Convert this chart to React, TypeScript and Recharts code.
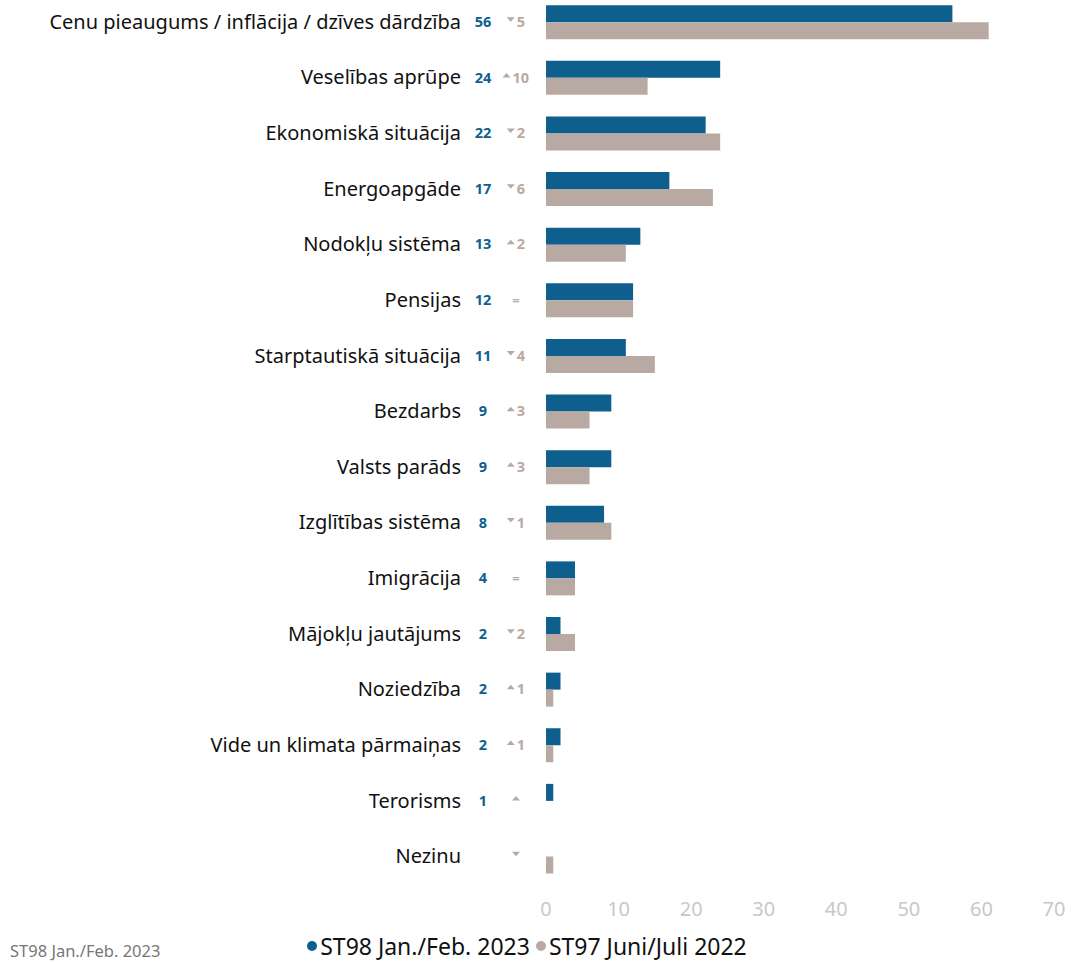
import { BarChart, Bar, XAxis, YAxis, Legend } from "recharts";

const categories = [
  "Cenu pieaugums / inflācija / dzīves dārdzība",
  "Veselības aprūpe",
  "Ekonomiskā situācija",
  "Energoapgāde",
  "Nodokļu sistēma",
  "Pensijas",
  "Starptautiskā situācija",
  "Bezdarbs",
  "Valsts parāds",
  "Izglītības sistēma",
  "Imigrācija",
  "Mājokļu jautājums",
  "Noziedzība",
  "Vide un klimata pārmaiņas",
  "Terorisms",
  "Nezinu",
];
const current = [56, 24, 22, 17, 13, 12, 11, 9, 9, 8, 4, 2, 2, 2, 1, 0];
const previous = [61, 14, 24, 23, 11, 12, 15, 6, 6, 9, 4, 4, 1, 1, 0, 1];
const currentLabels = ["56", "24", "22", "17", "13", "12", "11", "9", "9", "8", "4", "2", "2", "2", "1", ""];
// direction of change vs previous wave: up / down / same
const changeDir = ["down", "up", "down", "down", "up", "same", "down", "up", "up", "down", "same", "down", "up", "up", "up", "down"];
const changeVal = ["5", "10", "2", "6", "2", "", "4", "3", "3", "1", "", "2", "1", "1", "", ""];
const xTicks = [0, 10, 20, 30, 40, 50, 60, 70];

const BLUE = "#0e5f8e";
const GREY = "#b8aaa2";
const FONT = "'Noto Sans', sans-serif";

const data = categories.map((name, i) => ({
  name,
  cur: current[i],
  prev: previous[i],
}));

const CategoryTick = (props: any) => {
  const { x, y, payload } = props;
  const i = payload.index;
  const dir = changeDir[i];
  const val = changeVal[i];
  const cx = 516 - x; // center of change column
  const numW = val.length * 8.5;
  const total = dir === "same" ? 0 : val ? 8 + 2 + numW : 8;
  const start = cx - total / 2;
  return (
    <g transform={`translate(${x},${y})`}>
      <text x={461 - x} y={0} dy="0.35em" textAnchor="end" fontSize={20} fill="#111" fontFamily={FONT}>
        {payload.value}
      </text>
      <text x={483 - x} y={0} dy="0.35em" textAnchor="middle" fontSize={14.5} fontWeight="bold" fill={BLUE} fontFamily={FONT}>
        {currentLabels[i]}
      </text>
      {dir === "same" && (
        <text x={cx} y={0} dy="0.35em" textAnchor="middle" fontSize={13} fontWeight="bold" fill={GREY} fontFamily={FONT}>
          =
        </text>
      )}
      {dir === "up" && (
        <path d={`M${start},${0} L${start + 8},${0} L${start + 4},${-4.5} Z`} fill={GREY} />
      )}
      {dir === "down" && (
        <path d={`M${start},${-4.5} L${start + 8},${-4.5} L${start + 4},${0} Z`} fill={GREY} />
      )}
      {dir !== "same" && val && (
        <text x={start + 10} y={0} dy="0.35em" textAnchor="start" fontSize={14.5} fontWeight="bold" fill={GREY} fontFamily={FONT}>
          {val}
        </text>
      )}
    </g>
  );
};

const LegendContent = () => (
  <div
    style={{
      display: "flex",
      justifyContent: "center",
      alignItems: "center",
      fontFamily: FONT,
      fontSize: 23,
      color: "#111",
    }}
  >
    <span style={{ display: "inline-block", width: 10, height: 10, borderRadius: "50%", background: BLUE, marginRight: 3 }} />
    <span style={{ marginRight: 6 }}>ST98 Jan./Feb. 2023</span>
    <span style={{ display: "inline-block", width: 10, height: 10, borderRadius: "50%", background: GREY, marginRight: 3 }} />
    <span>ST97 Juni/Juli 2022</span>
  </div>
);

export default function App() {
  return (
    <div style={{ position: "absolute", left: 0, top: 0, width: 1071, height: 962, overflow: "hidden", background: "#fff" }}>
      <div style={{ position: "absolute", left: 0, top: -14 }}>
        <BarChart
          width={1071}
          height={976}
          data={data}
          layout="vertical"
          margin={{ top: 8, right: 17, bottom: 0, left: 0 }}
          barCategoryGap="20%"
          barGap={0}
        >
          <XAxis
            type="number"
            domain={[0, 70]}
            ticks={xTicks}
            axisLine={false}
            tickLine={false}
            tickMargin={12}
            height={46}
            tick={{ fill: "#c8c8c8", fontSize: 20, fontFamily: FONT }}
          />
          <YAxis
            type="category"
            dataKey="name"
            width={546}
            axisLine={false}
            tickLine={false}
            interval={0}
            tick={<CategoryTick />}
          />
          <Legend verticalAlign="bottom" content={<LegendContent />} />
          <Bar dataKey="cur" fill={BLUE} isAnimationActive={false} />
          <Bar dataKey="prev" fill={GREY} isAnimationActive={false} />
        </BarChart>
      </div>
      <div
        style={{
          position: "absolute",
          left: 10,
          top: 939,
          fontFamily: FONT,
          fontSize: 16.5,
          color: "#777",
        }}
      >
        ST98 Jan./Feb. 2023
      </div>
    </div>
  );
}
